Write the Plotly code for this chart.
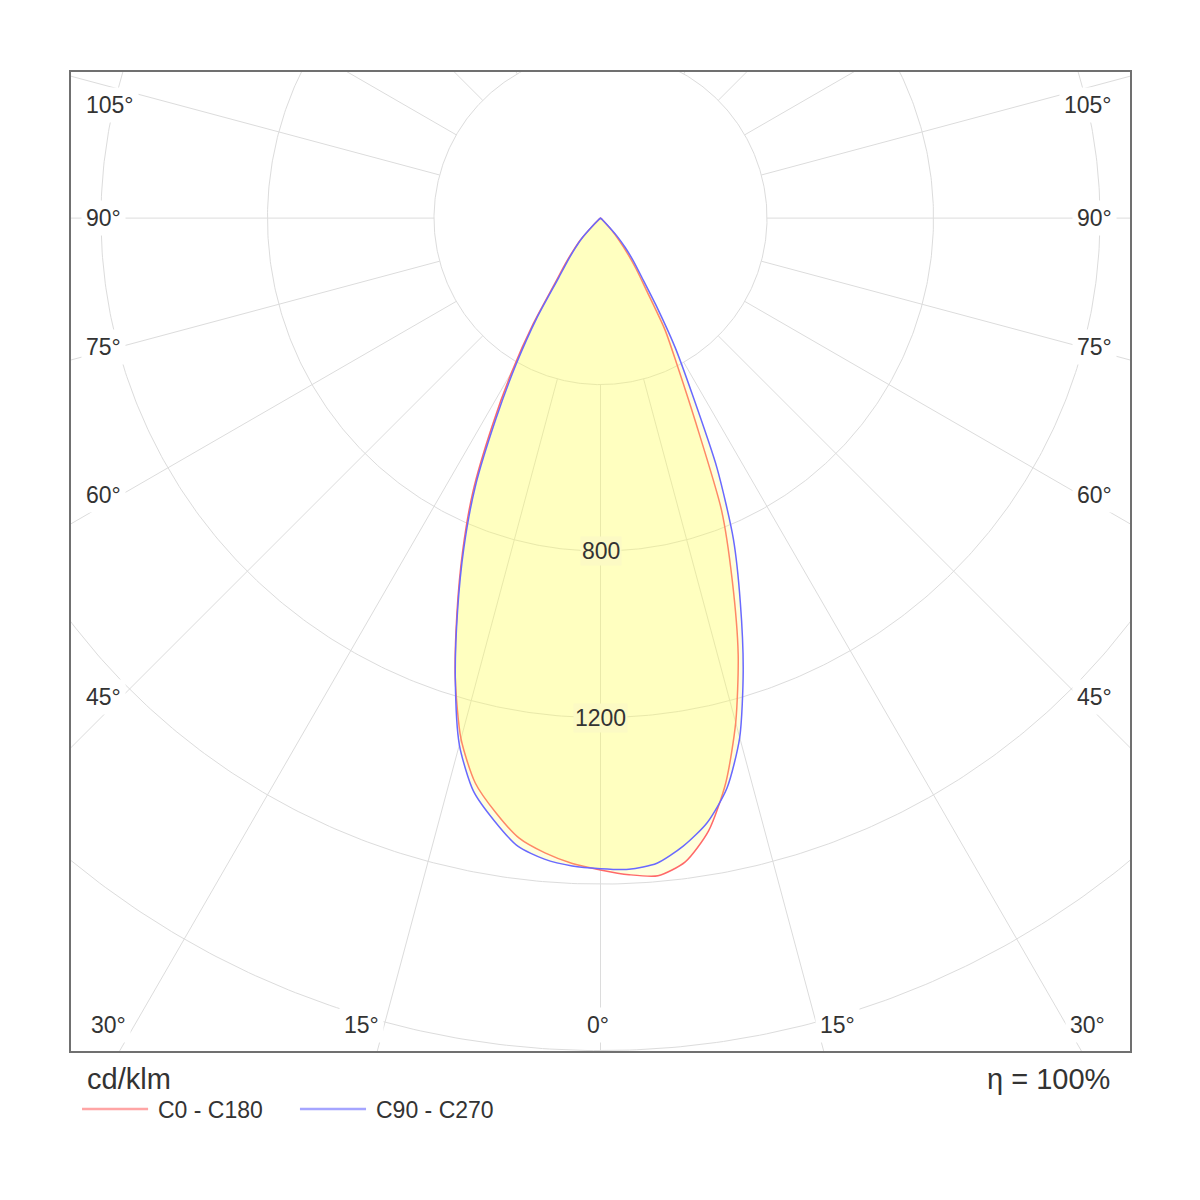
import numpy as np
import plotly.graph_objects as go

# Gamma angles (deg) and luminous intensity in cd/klm
GAMMA = [0, 2.5, 5, 7.5, 10, 12.5, 15, 17.5, 20, 22.5, 25, 27.5, 30,
         32.5, 35, 37.5, 40, 42.5, 45, 47.5, 50, 55, 60, 70, 80, 90]
C0 = [1566, 1579, 1586, 1560, 1495, 1390, 1255, 1100, 925, 760, 540, 400, 310,
      205, 150, 105, 68, 40, 18, 6, 2, 0, 0, 0, 0, 0]
C180 = [1566, 1552, 1531, 1502, 1450, 1390, 1295, 1160, 1008, 865, 725, 565, 425,
        300, 190, 140, 102, 72, 30, 8, 2, 0, 0, 0, 0, 0]
C90 = [1563, 1566, 1556, 1522, 1475, 1403, 1292, 1140, 982, 834, 662, 478, 358,
       248, 172, 130, 93, 58, 20, 6, 1, 0, 0, 0, 0, 0]
C270 = [1563, 1558, 1546, 1522, 1470, 1410, 1310, 1160, 1004, 858, 712, 545, 405,
        285, 176, 130, 95, 68, 27, 7, 2, 0, 0, 0, 0, 0]

RINGS = [400, 800, 1200, 1600, 2000]
RING_LABELS = [800, 1200]
RAY_ANGLES = list(range(0, 360, 15))

SIDE_LABELS = ["105°", "90°", "75°", "60°", "45°"]
SIDE_LABEL_Y = [271, 0, -310, -665, -1151]
BOTTOM_LABELS = ["30°", "15°", "0°", "15°", "30°"]
BOTTOM_LABEL_X = [-1183, -573, -6, 570, 1171]

FONT = "Liberation Sans, Arial, sans-serif"
TEXT = "#333333"


def plane_xy(left, right):
  # left half-plane drawn from 90° down to 0°, right half back up to 90°
  g = np.radians(GAMMA)
  l = np.array(left, dtype=float)
  r = np.array(right, dtype=float)
  x = np.concatenate([(-l * np.sin(g))[::-1], (r * np.sin(g))[1:]])
  y = np.concatenate([(-l * np.cos(g))[::-1], (-r * np.cos(g))[1:]])
  return x, y


def main():
  fig = go.Figure()

  # polar grid: rings and rays (rays start at the first ring)
  t = np.linspace(0, 2 * np.pi, 721)
  gx, gy = [], []
  for ring in RINGS:
    gx += list(ring * np.sin(t)) + [None]
    gy += list(ring * np.cos(t)) + [None]
  for a in RAY_ANGLES:
    rad = np.radians(a)
    gx += [RINGS[0] * np.sin(rad), 3000 * np.sin(rad), None]
    gy += [-RINGS[0] * np.cos(rad), -3000 * np.cos(rad), None]
  fig.add_trace(go.Scatter(x=gx, y=gy, mode="lines", hoverinfo="skip",
                           line=dict(color="#dcdcdc", width=1), showlegend=False))

  planes = [("C0 - C180", C180, C0, "rgb(255,105,105)"),
            ("C90 - C270", C270, C90, "rgb(105,105,255)")]
  for name, left, right, color in planes:
    x, y = plane_xy(left, right)
    fig.add_trace(go.Scatter(
      x=x, y=y, mode="lines", name=name, fill="toself",
      fillcolor="rgba(255,255,90,0.21)",
      line=dict(color=color, width=1.5, shape="spline", smoothing=0.7),
      showlegend=False))

  annotations = []
  for text, y in zip(SIDE_LABELS, SIDE_LABEL_Y):
    annotations.append(dict(x=-1248, y=y, text=text, xanchor="left", yanchor="middle",
                            showarrow=False, bgcolor="white", borderpad=4))
    annotations.append(dict(x=1241, y=y, text=text, xanchor="right", yanchor="middle",
                            showarrow=False, bgcolor="white", borderpad=4))
  for text, x in zip(BOTTOM_LABELS, BOTTOM_LABEL_X):
    annotations.append(dict(x=x, y=-1939, text=text, yanchor="middle", showarrow=False,
                            bgcolor="white", borderpad=4))
  for v in RING_LABELS:
    annotations.append(dict(x=0, y=-v, text=str(v), yanchor="middle", showarrow=False,
                            bgcolor="#fcfac4", borderpad=1))

  # footer: unit, efficiency and legend
  annotations.append(dict(xref="paper", yref="paper", x=0.013, y=-0.0286, text="cd/klm",
                          xanchor="left", yanchor="middle", showarrow=False,
                          font=dict(size=29)))
  annotations.append(dict(xref="paper", yref="paper", x=0.983, y=-0.0286, text="η = 100%",
                          xanchor="right", yanchor="middle", showarrow=False,
                          font=dict(size=29)))
  legend_x = [0.0104, 0.2162]
  shapes = []
  for (name, _, _, color), lx in zip(planes, legend_x):
    shapes.append(dict(type="line", xref="paper", yref="paper", x0=lx, x1=lx + 0.0624,
                       y0=-0.0592, y1=-0.0592,
                       line=dict(color=color.replace("105", "165"), width=2.5)))
    annotations.append(dict(xref="paper", yref="paper", x=lx + 0.0700, y=-0.0603, text=name,
                            xanchor="left", yanchor="middle", showarrow=False,
                            font=dict(size=23)))

  fig.update_layout(
    width=1200, height=1200,
    margin=dict(l=63, r=78, t=64, b=157),
    paper_bgcolor="white", plot_bgcolor="white",
    font=dict(family=FONT, size=23, color=TEXT),
    annotations=annotations, shapes=shapes,
    showlegend=False,
  )
  fig.update_xaxes(range=[-1272, 1272], showgrid=False, zeroline=False, showticklabels=False,
                   ticks="", showline=True, mirror=True, linecolor="#707070", linewidth=2)
  fig.update_yaxes(range=[-2001, 351], showgrid=False, zeroline=False, showticklabels=False,
                   ticks="", showline=True, mirror=True, linecolor="#707070", linewidth=2)
  fig.write_html("out.html")
  return 0


if __name__ == '__main__':
  main()
